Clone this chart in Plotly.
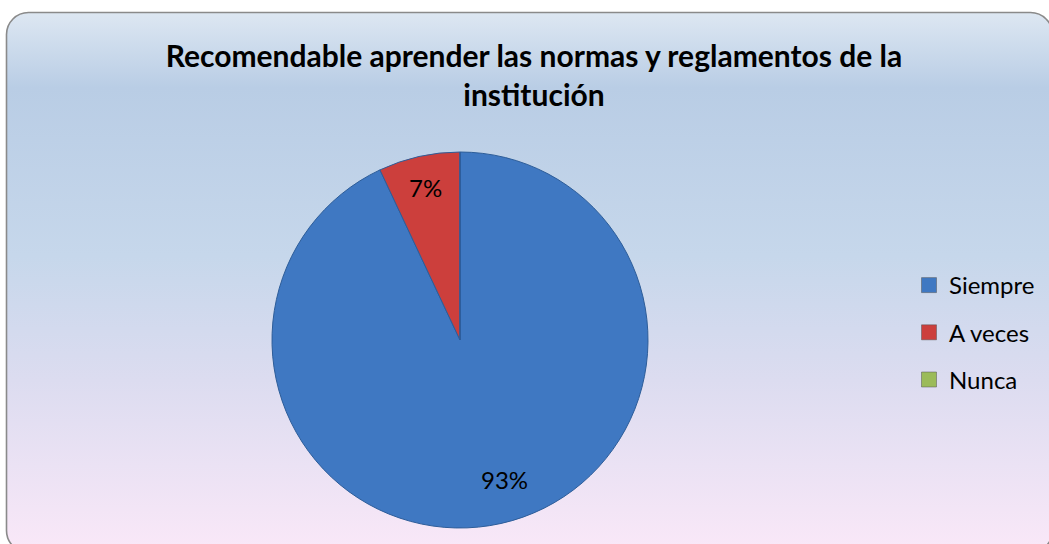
import base64
import math
import plotly.graph_objects as go

# ---- data ----
labels = ["Siempre", "A veces", "Nunca"]
values = [93, 7, 0]
colors = ["#3f78c2", "#cc3f3c", "#9bbb59"]
title_text = "Recomendable aprender las normas y reglamentos de la<br>institución"

W, H = 1049, 544
FONT = "Lato, Open Sans, sans-serif"

# background: rounded frame with vertical gradient (decoration)
svg = f'''<svg xmlns="http://www.w3.org/2000/svg" width="{W}" height="{H}" viewBox="0 0 {W} {H}">
<defs><linearGradient id="g" x1="0" y1="0" x2="0" y2="1">
<stop offset="0" stop-color="#dde7f2"/>
<stop offset="0.14" stop-color="#b9cde5"/>
<stop offset="0.45" stop-color="#c6d7eb"/>
<stop offset="0.68" stop-color="#dcdcf0"/>
<stop offset="1" stop-color="#fae8f8"/>
</linearGradient></defs>
<rect x="6.5" y="12.5" width="1046" height="540" rx="22" ry="22" fill="url(#g)" stroke="#8a8a8a" stroke-width="1.6"/>
</svg>'''
bg_uri = "data:image/svg+xml;base64," + base64.b64encode(svg.encode()).decode()

cx, cy, r = 460, 340, 188

fig = go.Figure()
fig.add_trace(go.Pie(
    labels=labels, values=values,
    marker=dict(colors=colors, line=dict(color="#2d5d99", width=1)),
    sort=False, direction="clockwise", rotation=0,
    textinfo="none",
    showlegend=False, hoverinfo="label+percent",
    domain=dict(x=[(cx - r) / W, (cx + r) / W], y=[1 - (cy + r) / H, 1 - (cy - r) / H]),
))

# percentage labels, placed along each slice's bisector (derived from the values)
total = sum(values)
label_frac = [0.78, 0.83, 0.8]
label_shift = [-0.09, 0.0, 0.0]  # angular nudge (fraction of a radian) for best fit
annotations = []
start = 0.0
for v, frac, sh in zip(values, label_frac, label_shift):
    ang = (start + v / total / 2) * 2 * math.pi + sh
    start += v / total
    if v == 0:
        continue
    px = cx + frac * r * math.sin(ang)
    py = cy - frac * r * math.cos(ang)
    annotations.append(dict(
        x=px / W, y=1 - py / H, xref="paper", yref="paper",
        text=f"{round(100 * v / total)}%", showarrow=False,
        font=dict(family=FONT, size=24, color="#000000"),
        xanchor="center", yanchor="middle",
    ))

# legend entries
for i, (lab, col) in enumerate(zip(labels, colors)):
    fig.add_trace(go.Scatter(
        x=[None], y=[None], mode="markers", name=lab,
        legendgroup=f"g{i}",
        marker=dict(symbol="square", size=15, color=col,
                    line=dict(color="#555555", width=0.5)),
    ))

fig.update_layout(
    width=W, height=H,
    margin=dict(l=0, r=0, t=0, b=0),
    paper_bgcolor="white", plot_bgcolor="rgba(0,0,0,0)",
    xaxis=dict(visible=False), yaxis=dict(visible=False),
    title=dict(text=title_text, x=534 / W, xanchor="center", y=1 - 67 / H, yanchor="top",
               font=dict(family=FONT, size=30, color="#000000", weight="bold")),
    legend=dict(x=909 / W, xanchor="left", y=1 - 263 / H, yanchor="top",
                bgcolor="rgba(0,0,0,0)", tracegroupgap=13,
                font=dict(family=FONT, size=24, color="#000000"),
                itemwidth=30),
    annotations=annotations,
    images=[dict(source=bg_uri, xref="paper", yref="paper", x=0, y=1, sizex=1, sizey=1,
                 sizing="stretch", xanchor="left", yanchor="top", layer="below")],
)

fig.write_html("out.html", config={"displayModeBar": False},
               post_script="document.body.style.margin='0';")
